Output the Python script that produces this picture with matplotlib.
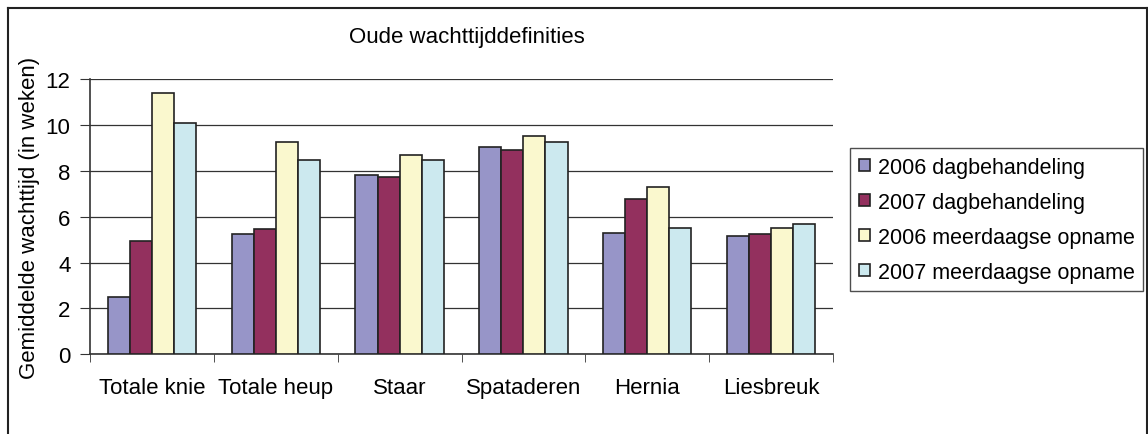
import matplotlib.pyplot as plt
from matplotlib.lines import Line2D
import numpy as np

categories = ["Totale knie", "Totale heup", "Staar", "Spataderen", "Hernia", "Liesbreuk"]
series_names = ["2006 dagbehandeling", "2007 dagbehandeling",
                "2006 meerdaagse opname", "2007 meerdaagse opname"]
dag_2006 = [2.5, 5.23, 7.8, 9.05, 5.29, 5.14]
dag_2007 = [4.93, 5.46, 7.71, 8.91, 6.77, 5.23]
meer_2006 = [11.4, 9.27, 8.69, 9.5, 7.28, 5.52]
meer_2007 = [10.08, 8.46, 8.46, 9.27, 5.51, 5.67]
colors = ["#9795C8", "#93305E", "#FAF8CE", "#CCE9EF"]

plt.rcParams['font.family'] = ['Liberation Sans', 'DejaVu Sans']
plt.rcParams['font.size'] = 16

W, H = 1148, 435
fig = plt.figure(figsize=(W / 100, H / 100), dpi=100)

# outer chart frame (open at the bottom)
for xs, ys in [([8, 8], [0, 9]), ([8, 1147], [9, 9]), ([1147, 1147], [9, 0])]:
    fig.add_artist(Line2D([x / W for x in xs], [1 - y / H if y else 0 for y in ys],
                          color="#222222", lw=1.5, transform=fig.transFigure))

ax = fig.add_axes([90 / W, (H - 355.3) / H, (833 - 90) / W, (355.3 - 80) / H])

x = np.arange(len(categories))
bw = 0.178
all_series = [dag_2006, dag_2007, meer_2006, meer_2007]
for i, (vals, c, name) in enumerate(zip(all_series, colors, series_names)):
    ax.bar(x + (i - 1.5) * bw, vals, bw, color=c, edgecolor="#222222",
           linewidth=1.2, label=name, zorder=3)

ax.set_xlim(-0.5, len(categories) - 0.5)
ax.set_ylim(0, 12)
ax.set_yticks(range(0, 13, 2))
ax.yaxis.grid(True, color="#333333", linewidth=0.9, zorder=0)
ax.set_axisbelow(True)

ax.set_xticks(x)
ax.set_xticklabels(categories)
ax.set_xticks(np.arange(-0.5, len(categories), 1), minor=True)
ax.tick_params(axis="x", which="major", length=0, pad=16)
ax.tick_params(axis="x", which="minor", length=6, color="#333333", direction="out")
ax.tick_params(axis="y", length=7, color="#333333", direction="out", pad=7)

for s in ["top", "right"]:
    ax.spines[s].set_visible(False)
ax.spines["left"].set_color("#333333")
ax.spines["bottom"].set_color("#333333")
ax.spines["left"].set_linewidth(1.2)
ax.spines["bottom"].set_linewidth(1.2)

ax.set_ylabel("Gemiddelde wachttijd (in weken)", labelpad=4)
fig.text(467 / W, 1 - 37 / H, "Oude wachttijddefinities", ha="center", va="center")

leg = ax.legend(loc="upper left", bbox_to_anchor=(850 / W, 1 - 149 / H),
                bbox_transform=fig.transFigure, frameon=True, fancybox=False,
                edgecolor="#222222", fontsize=15.5, handlelength=0.55, handleheight=0.47,
                handletextpad=0.35, labelspacing=0.65, borderpad=0.4,
                borderaxespad=0)
leg.get_frame().set_linewidth(1.0)

fig.savefig("out.png", dpi=100)
